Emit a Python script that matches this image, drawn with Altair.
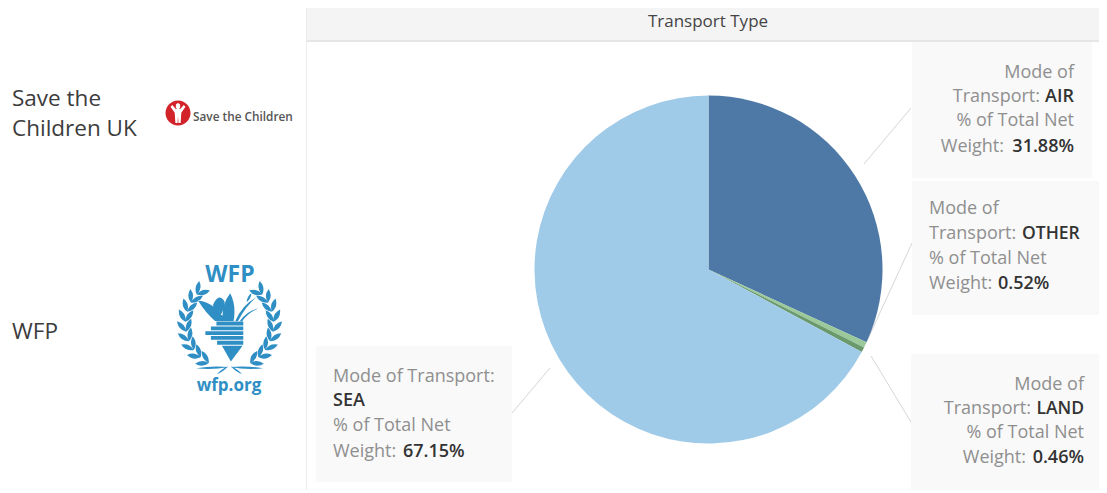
import math
import altair as alt
import pandas as pd

modes = ["AIR", "OTHER", "LAND", "SEA"]
shares = [31.88, 0.52, 0.46, 67.15]
mode_colors = ["#4e79a7", "#9bc99a", "#69996d", "#a0cbe8"]
partners = ["Save the", "Children UK", "WFP"]
header = "Transport Type"

FONT = "Open Sans"
OX, OY = 8, 8


def value_pos(x, y):
    return dict(x=alt.value(x - OX), y=alt.value(y - OY))


def text(s, x, y, size=18, color="#8a8a8a", align="left", weight="normal", font=FONT):
    return alt.Chart().mark_text(
        text=s, fontSize=size, color=color, align=align, baseline="middle",
        fontWeight=weight, font=font,
    ).encode(**value_pos(x, y + 1.5))


def box(x0, y0, x1, y1, fill):
    return alt.Chart().mark_rect(fill=fill).encode(
        x=alt.value(x0 - OX), x2=alt.value(x1 - OX),
        y=alt.value(y0 - OY), y2=alt.value(y1 - OY),
    )


def line(x0, y0, x1, y1, color="#d6d6d6", w=1):
    return alt.Chart().mark_rule(color=color, strokeWidth=w).encode(
        x=alt.value(x0 - OX), x2=alt.value(x1 - OX),
        y=alt.value(y0 - OY), y2=alt.value(y1 - OY),
    )


def symbol(path, x, y, px, color):
    return alt.Chart().mark_point(
        shape=path, size=px * px, filled=True, fill=color, opacity=1, strokeWidth=0,
    ).encode(**value_pos(x, y))


# ---- logo drawings (unit box -1..1) ----
def u(x, y):
    return f"{(x - 208) / 154:.3f},{(y - 205) / 154:.3f}"


def leaf(bx, by, ang, ln, wd):
    tx, ty = bx + ln * math.cos(ang), by + ln * math.sin(ang)
    mx, my = (bx + tx) / 2, (by + ty) / 2
    nx, ny = -math.sin(ang) * wd, math.cos(ang) * wd
    return (f"M{u(bx, by)}Q{u(mx + nx, my + ny)} {u(tx, ty)}"
            f"Q{u(mx - nx, my - ny)} {u(bx, by)}Z")


parts = []
for side in (-1, 1):
    for deg in range(-62, 46, 13):
        t = math.radians(deg)
        bx = 208 + side * 128 * math.cos(t)
        by = 205 - 128 * math.sin(t)
        tang = math.atan2(-math.cos(t), side * -math.sin(t))
        parts.append(leaf(bx, by, tang - 0.55, 40, 14))
        parts.append(leaf(bx, by, tang + 0.55, 40, 14))
    parts.append(leaf(208 + side * 2, 330, math.pi / 2 - side * (math.pi / 2 - 0.04), 95, 7))
    parts.append(leaf(208 + side * 4, 328, math.pi / 2 - side * 0.95, 40, 5))

parts += [
    f"M{u(116,136)}Q{u(172,146)} {u(196,196)}L{u(166,196)}Q{u(138,172)} {u(116,136)}Z",
    f"M{u(210,116)}Q{u(228,150)} {u(220,196)}L{u(188,196)}Q{u(184,150)} {u(210,116)}Z",
    f"M{u(160,150)}Q{u(176,112)} {u(194,140)}Q{u(190,170)} {u(180,182)}Q{u(166,170)} {u(160,150)}Z",
    f"M{u(225,196)}Q{u(245,150)} {u(285,128)}Q{u(254,155)} {u(233,196)}Z",
    f"M{u(238,196)}Q{u(262,165)} {u(292,160)}Q{u(262,172)} {u(245,197)}Z",
    leaf(258, 142, -1.1, 30, 7),
]
for y0, x0 in [(198, 170), (212, 154), (226, 138), (240, 154), (254, 172)]:
    parts.append(f"M{u(x0,y0)}L{u(248,y0)}L{u(248,y0+11)}L{u(x0,y0+11)}Z")
parts.append(f"M{u(186,268)}L{u(246,268)}L{u(212,314)}Z")
wfp_path = "".join(parts)

head_path = "M-.19,-.62A.2,.2 0 1 1 .19,-.62A.2,.2 0 1 1 -.19,-.62Z"
figure_path = (head_path + "M-.2,-.36L-.52,-.72L-.68,-.56L-.3,-.02L-.24,.9L-.04,.9L0,.3L.04,.9"
               "L.24,.9L.3,-.02L.68,-.56L.52,-.72L.2,-.36Z")
circle_path = "M-1,0A1,1 0 1 1 1,0A1,1 0 1 1 -1,0Z"

# ---- pie ----
df = pd.DataFrame({"mode": modes, "share": shares, "idx": range(len(modes))})
pie = alt.Chart(df).mark_arc(radius=174).encode(
    theta=alt.Theta("share:Q", stack=True),
    color=alt.Color("mode:N", scale=alt.Scale(domain=modes, range=mode_colors), legend=None),
    order=alt.Order("idx:Q"),
    **value_pos(708.5, 269.5),
)

DARK = "#333333"
GRAY = "#8f8f8f"
layers = [
    box(307, 0, 1107, 41, "#f4f4f4"),
    box(307, 40, 1107, 42, "#e6e6e6"),
    box(306, 0, 307, 493, "#ececec"),
    box(912, 42, 1092, 178, "#f9f9f9"),
    box(912, 181, 1107, 315, "#f9f9f9"),
    box(911, 354, 1102, 490, "#f9f9f9"),
    box(316, 346, 512, 482, "#f9f9f9"),
    line(864, 164, 911, 108),
    line(867, 341, 912, 243),
    line(871, 356, 911, 422),
    line(512, 413, 550, 368),
    pie,
    text(header, 708, 20, size=17, color="#444444", align="center", weight=500),
    text(partners[0], 12, 97, size=22.5, color="#3c3c3c"),
    text(partners[1], 12, 127, size=22.5, color="#3c3c3c"),
    text(partners[2], 12, 330, size=22.5, color="#3c3c3c"),
    # Save the Children logo
    symbol(circle_path, 178, 113, 25, "#d2232a"),
    symbol(figure_path, 178, 113, 22, "#ffffff"),
    text("Save the Children", 193, 115.5, size=11.8, color="#555555", weight=600),
    # WFP logo
    text("WFP", 230, 273, size=23, color="#2f8fc5", align="center", weight="bold"),
    symbol(wfp_path, 229.5, 324, 106, "#2f8fc5"),
    text("wfp.org", 229, 384, size=17, color="#2f8fc5", align="center", weight="bold"),
    # AIR
    text("Mode of", 1074, 71, align="right", color=GRAY),
    text("Transport:", 1040, 95, align="right", color=GRAY),
    text(modes[0], 1074, 95, align="right", color=DARK, weight=600),
    text("% of Total Net", 1074, 119, align="right", color=GRAY),
    text("Weight:", 1004, 145, align="right", color=GRAY),
    text(f"{shares[0]:.2f}%", 1074, 145, align="right", color=DARK, weight=600),
    # OTHER
    text("Mode of", 929, 207, color=GRAY),
    text("Transport:", 929, 232, color=GRAY),
    text(modes[1], 1022, 232, color=DARK, weight=600, size=17.5),
    text("% of Total Net", 929, 257, color=GRAY),
    text("Weight:", 929, 282, color=GRAY),
    text(f"{shares[1]:.2f}%", 998, 282, color=DARK, weight=600),
    # LAND
    text("Mode of", 1084, 383, align="right", color=GRAY),
    text("Transport:", 1031, 407, align="right", color=GRAY),
    text(modes[2], 1084, 407, align="right", color=DARK, weight=600, size=17.5),
    text("% of Total Net", 1084, 431, align="right", color=GRAY),
    text("Weight:", 1026, 456, align="right", color=GRAY),
    text(f"{shares[2]:.2f}%", 1084, 456, align="right", color=DARK, weight=600),
    # SEA
    text("Mode of Transport:", 333, 375, color=GRAY),
    text(modes[3], 333, 399, color=DARK, weight=600),
    text("% of Total Net", 333, 424, color=GRAY),
    text("Weight:", 333, 450, color=GRAY),
    text(f"{shares[3]:.2f}%", 403, 450, color=DARK, weight=600),
]

chart = alt.layer(*layers).properties(
    width=1091, height=482, padding=0, background="#ffffff",
    autosize=alt.AutoSizeParams(type="none"),
).configure_view(stroke=None)

chart.save("out.html", embed_options={"renderer": "svg", "actions": False})
